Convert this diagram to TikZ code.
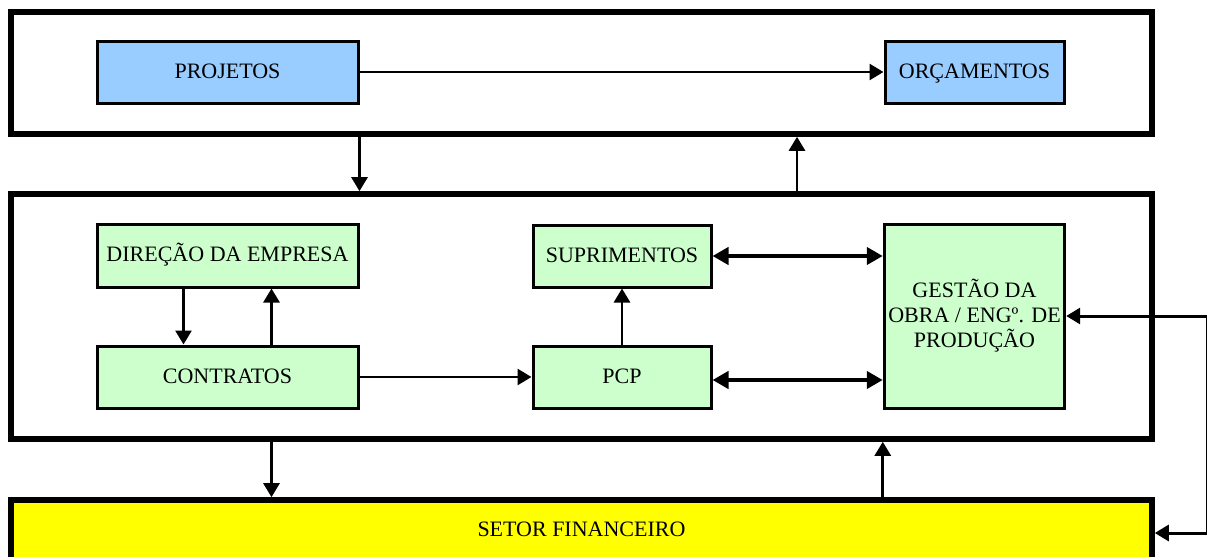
\documentclass[tikz,border=0pt]{standalone}
\usepackage{fontspec}
\setmainfont{Liberation Serif}
\usetikzlibrary{arrows.meta,calc}

\definecolor{azul}{RGB}{153,204,255}
\definecolor{verde}{RGB}{204,255,204}
\definecolor{amarelo}{RGB}{255,255,0}

\tikzset{
  setor/.style={draw, line width=2.8pt, minimum width=570.5pt, font=\fontsize{11}{12.5}\selectfont},
  bloco/.style={draw, line width=1.5pt, inner sep=2pt, align=center, font=\fontsize{11}{12.5}\selectfont},
  uma/.style={text height=7.5pt, text depth=1.5pt},
  fluxo/.style={-{Triangle[length=7pt,width=8pt]}, line width=1.4pt},
  duplo/.style={{Triangle[length=8pt,width=8.5pt]}-{Triangle[length=8pt,width=8.5pt]}, line width=2pt},
  retorno/.style={{Triangle[length=7pt,width=8pt]}-{Triangle[length=7pt,width=8pt]}, line width=1.5pt}
}

\begin{document}
\begin{tikzpicture}[x=0.5pt,y=-0.5pt]
  \useasboundingbox (0,0) rectangle (1207,557);
  \clip (0,0) rectangle (1207,557);
  \node[setor, minimum height=61pt] (top) at (581.5,73) {};
  \node[setor, minimum height=122.5pt] (mid) at (581.5,316.5) {};
  \node[setor, uma, fill=amarelo, minimum height=30pt] (fin) at (581.5,530) {SETOR FINANCEIRO};

  \node[bloco, uma, fill=azul, minimum width=130.5pt, minimum height=31pt] (proj) at (227.5,72) {PROJETOS};
  \node[bloco, uma, fill=azul, minimum width=89.5pt, minimum height=31pt] (orc) at (974.5,72) {ORÇAMENTOS};
  \node[bloco, uma, fill=verde, minimum width=130.5pt, minimum height=31.5pt] (dir) at (227.5,255.5) {DIREÇÃO DA EMPRESA};
  \node[bloco, uma, fill=verde, minimum width=130.5pt, minimum height=31pt] (contr) at (227.5,377) {CONTRATOS};
  \node[bloco, uma, fill=verde, minimum width=89pt, minimum height=31pt] (sup) at (622,256) {SUPRIMENTOS};
  \node[bloco, uma, fill=verde, minimum width=89pt, minimum height=31pt] (pcp) at (622,377) {PCP};
  \node[bloco, fill=verde, minimum width=89.5pt, minimum height=92pt] (gest) at (974.5,316) {GESTÃO DA\\OBRA / ENGº. DE\\PRODUÇÃO};

  \coordinate (orcup) at (797,194);
  \coordinate (dirdn) at ($(dir.south west)!1/3!(dir.south east)$);
  \coordinate (dirup) at ($(dir.south west)!2/3!(dir.south east)$);

  \draw[fluxo] (proj) -- (orc);
  \draw[fluxo] (top.south -| proj.east) -- (mid.north -| proj.east);
  \draw[fluxo] (orcup) -- (top.south -| orcup);
  \draw[fluxo] (dirdn) -- (contr.north -| dirdn);
  \draw[fluxo] (contr.north -| dirup) -- (dirup);
  \draw[fluxo] (contr) -- (pcp);
  \draw[fluxo] (pcp) -- (sup);
  \draw[duplo] (sup.east) -- (sup.east -| gest.west);
  \draw[duplo] ([yshift=-1.5pt]pcp.east) -- ([yshift=-1.5pt]pcp.east -| gest.west);
  \draw[fluxo] (mid.south -| dirup) -- (fin.north -| dirup);
  \draw[fluxo] (fin.north -| gest.west) -- (mid.south -| gest.west);
  \draw[retorno] (gest.east) -- ++(141,0) |- ([yshift=-1.5pt]fin.east);
\end{tikzpicture}
\end{document}
